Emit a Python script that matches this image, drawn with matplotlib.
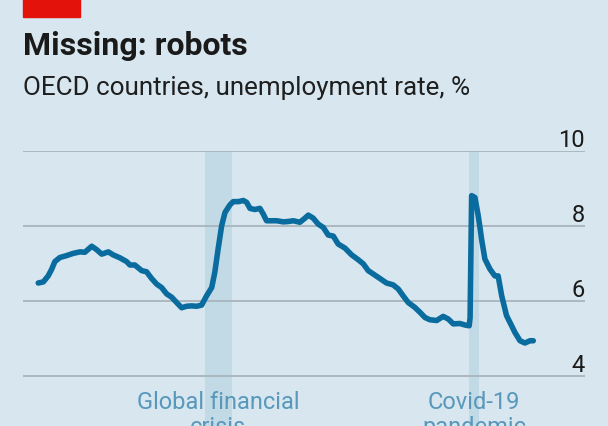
import matplotlib.pyplot as plt
from matplotlib.patches import Rectangle

# OECD unemployment rate, %, decimal years
years = [2000.64, 2000.87, 2001.09, 2001.25, 2001.39, 2001.62, 2001.92, 2002.22, 2002.53, 2002.75,
         2003.06, 2003.28, 2003.51, 2003.81, 2004.03, 2004.34, 2004.64, 2004.79, 2005.01, 2005.32,
         2005.54, 2005.77, 2006.00, 2006.22, 2006.45, 2006.68, 2006.90, 2007.13, 2007.35, 2007.58,
         2007.81, 2008.03, 2008.26, 2008.49, 2008.63, 2008.78, 2008.94, 2009.09, 2009.31, 2009.46,
         2009.69, 2009.92, 2010.07, 2010.22, 2010.44, 2010.67, 2010.82, 2010.97, 2011.20, 2011.43,
         2011.73, 2011.95, 2012.18, 2012.48, 2012.71, 2012.86, 2013.08, 2013.31, 2013.54, 2013.76,
         2013.99, 2014.21, 2014.52, 2014.82, 2015.12, 2015.35, 2015.57, 2015.80, 2016.10, 2016.40,
         2016.70, 2016.93, 2017.15, 2017.38, 2017.68, 2017.91, 2018.14, 2018.36, 2018.67, 2018.96,
         2019.19, 2019.42, 2019.72, 2019.95, 2020.14, 2020.18, 2020.25, 2020.40, 2020.55, 2020.63,
         2020.70, 2020.85, 2021.08, 2021.30, 2021.45, 2021.61, 2021.83, 2022.06, 2022.21, 2022.44,
         2022.66, 2022.89, 2023.04]
rate = [6.48, 6.51, 6.67, 6.85, 7.05, 7.16, 7.21, 7.27, 7.31, 7.30,
        7.46, 7.37, 7.25, 7.31, 7.23, 7.15, 7.05, 6.96, 6.96, 6.81,
        6.78, 6.60, 6.45, 6.36, 6.19, 6.10, 5.96, 5.82, 5.86, 5.87,
        5.86, 5.89, 6.14, 6.36, 6.77, 7.39, 8.01, 8.36, 8.56, 8.65,
        8.65, 8.68, 8.63, 8.47, 8.44, 8.47, 8.32, 8.14, 8.14, 8.14,
        8.11, 8.12, 8.14, 8.10, 8.21, 8.29, 8.21, 8.05, 7.96, 7.76,
        7.73, 7.52, 7.41, 7.23, 7.10, 6.99, 6.81, 6.72, 6.60, 6.48,
        6.43, 6.32, 6.14, 5.96, 5.83, 5.70, 5.56, 5.50, 5.48, 5.59,
        5.52, 5.39, 5.40, 5.36, 5.34, 5.55, 8.81, 8.76, 8.27, 7.95,
        7.65, 7.12, 6.85, 6.67, 6.67, 6.14, 5.61, 5.34, 5.16, 4.94,
        4.88, 4.94, 4.94]

# shaded periods
shade_start = [2008.18, 2020.13]
shade_end = [2009.40, 2020.58]
shade_labels = [["Global financial", "crisis"], ["Covid-19", "pandemic"]]

yticks = [4, 6, 8, 10]

bg = "#d7e6ef"
plt.rcParams["font.family"] = ["Roboto", "DejaVu Sans"]

fig = plt.figure(figsize=(6.08, 4.27), dpi=100, facecolor=bg)

# red tag top left
fig.patches.append(Rectangle((23 / 608, 1 - 18 / 427), 57 / 608, 18 / 427,
                             transform=fig.transFigure, color="#e3120b", zorder=5))

fig.text(23 / 608, 1 - 55 / 427, "Missing: robots", fontsize=23, fontweight="bold",
         color="#1a1a1a", va="baseline", ha="left")
fig.text(23 / 608, 1 - 95 / 427, "OECD countries, unemployment rate, %", fontsize=18.7,
         color="#1f1f1f", va="baseline", ha="left")

ax = fig.add_axes([23 / 608, 0, 562 / 608, 275 / 427])
ax.set_facecolor(bg)
ax.set_xlim(1999.95, 2025.38)
ax.set_ylim(2.667, 10)
for s in ax.spines.values():
    s.set_visible(False)
ax.set_xticks([])
ax.set_yticks([])

for a, b in zip(shade_start, shade_end):
    ax.axvspan(a, b, color="#c2dae6", lw=0, zorder=1)

for v in yticks:
    ax.axhline(v, color="#a9b5bd", lw=1.3, zorder=2)
    ax.text(2025.38, v + 0.14, str(v), ha="right", va="baseline", fontsize=17,
            color="#1a1a1a")

ax.plot(years, rate, color="#0a6c9e", lw=4, solid_joinstyle="round",
        solid_capstyle="round", zorder=3)

for a, b, lab in zip(shade_start, shade_end, shade_labels):
    xc = (a + b) / 2
    ax.text(xc, 3.147, lab[0], ha="center", va="baseline", fontsize=17,
            color="#5898bb", clip_on=False)
    ax.text(xc, 2.48, lab[1], ha="center", va="baseline", fontsize=17,
            color="#5898bb", clip_on=False)

fig.savefig("out.png", dpi=100, facecolor=bg)
